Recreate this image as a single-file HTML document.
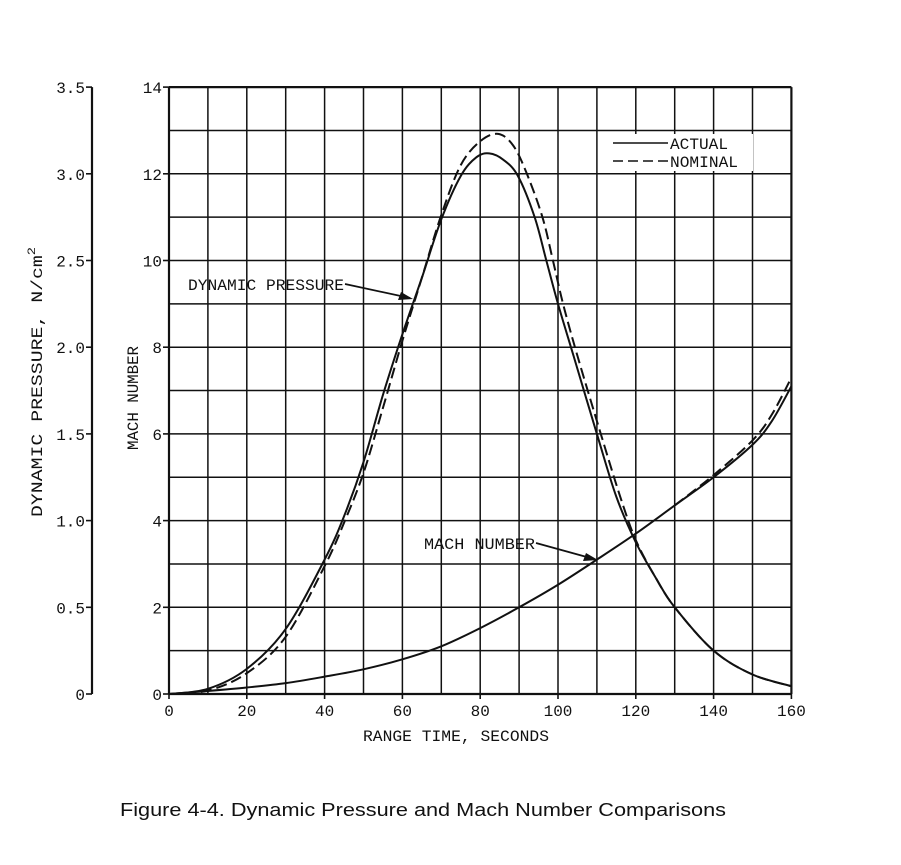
<!DOCTYPE html>
<html><head><meta charset="utf-8"><style>
body{margin:0;background:#fff}
svg text{font-family:"Liberation Mono",monospace;fill:#111}
</style></head><body>
<svg id="s" width="901" height="860" viewBox="0 0 901 860" xmlns="http://www.w3.org/2000/svg">
<g id="grid" stroke="#111" stroke-width="1.6" fill="none"></g>
<rect x="601" y="134" width="152" height="37" fill="#fff"/>
<line x1="613" y1="143" x2="668" y2="143" stroke="#111" stroke-width="1.5"/>
<line x1="613" y1="161" x2="668" y2="161" stroke="#111" stroke-width="1.5" stroke-dasharray="10,5"/>
<text x="670" y="149" font-size="16" textLength="58" lengthAdjust="spacingAndGlyphs">ACTUAL</text>
<text x="670" y="167" font-size="16" textLength="68" lengthAdjust="spacingAndGlyphs">NOMINAL</text>
<g id="curves" fill="none" stroke="#111" stroke-width="2"></g>
<g id="labels" font-size="16"></g>
<text x="188" y="290" font-size="16" textLength="156" lengthAdjust="spacingAndGlyphs">DYNAMIC PRESSURE</text>
<line x1="345" y1="284" x2="410" y2="298" stroke="#111" stroke-width="1.7"/>
<polygon points="413,299 398,300 401,292" fill="#111"/>
<text x="424" y="549" font-size="16" textLength="111" lengthAdjust="spacingAndGlyphs">MACH NUMBER</text>
<line x1="536" y1="543" x2="594" y2="559" stroke="#111" stroke-width="1.7"/>
<polygon points="598,560 583,561 586,553" fill="#111"/>
<text x="456" y="741" font-size="16" text-anchor="middle" textLength="186" lengthAdjust="spacingAndGlyphs">RANGE TIME, SECONDS</text>
<text transform="translate(138,398) rotate(-90)" font-size="16" text-anchor="middle" textLength="104" lengthAdjust="spacingAndGlyphs">MACH NUMBER</text>
<text transform="translate(42,382) rotate(-90)" font-size="16" text-anchor="middle" textLength="270" lengthAdjust="spacingAndGlyphs">DYNAMIC PRESSURE, N/cm<tspan dy="-7" font-size="11">2</tspan></text>
<text x="120" y="816" font-size="18" style='font-family:"Liberation Sans Narrow","Liberation Sans",sans-serif' textLength="606" lengthAdjust="spacingAndGlyphs">Figure 4-4.  Dynamic Pressure and Mach Number Comparisons</text>
</svg>
<script>
const NS="http://www.w3.org/2000/svg";
const X=t=>169+t*3.89, Y=m=>694-m*43.35;
const g=document.getElementById('grid'), lab=document.getElementById('labels');
function el(p,tag,a,txt){const e=document.createElementNS(NS,tag);for(const k in a)e.setAttribute(k,a[k]);if(txt!=null)e.textContent=txt;p.appendChild(e);return e;}
for(let t=0;t<=160;t+=10)el(g,'line',{x1:X(t),y1:Y(0),x2:X(t),y2:Y(14),'stroke-width':(t==0||t==160)?2.2:1.5});
for(let m=0;m<=14;m++)el(g,'line',{x1:X(0),y1:Y(m),x2:X(160),y2:Y(m),'stroke-width':(m==0||m==14)?2.2:1.5});
for(let m=0;m<=14;m+=2){el(g,'line',{x1:X(0)-6,y1:Y(m),x2:X(0),y2:Y(m)});el(lab,'text',{x:X(0)-7,y:Y(m)+6,'text-anchor':'end'},m);}
for(let t=0;t<=160;t+=20){el(g,'line',{x1:X(t),y1:Y(0),x2:X(t),y2:Y(0)+5});el(lab,'text',{x:X(t),y:Y(0)+22,'text-anchor':'middle'},t);}
el(g,'line',{x1:92,y1:Y(14),x2:92,y2:Y(0),'stroke-width':2.2});
for(let i=0;i<=7;i++){const y=Y(i*2);el(g,'line',{x1:86,y1:y,x2:92,y2:y});el(lab,'text',{x:85,y:y+6,'text-anchor':'end'},i==0?'0':(i*0.5).toFixed(1));}
function path(pts,dash){let d='M'+X(pts[0][0])+','+Y(pts[0][1]);
 for(let i=0;i<pts.length-1;i++){const p0=pts[Math.max(0,i-1)],p1=pts[i],p2=pts[i+1],p3=pts[Math.min(pts.length-1,i+2)];
  const c1=[X(p1[0])+(X(p2[0])-X(p0[0]))/6,Y(p1[1])+(Y(p2[1])-Y(p0[1]))/6],c2=[X(p2[0])-(X(p3[0])-X(p1[0]))/6,Y(p2[1])-(Y(p3[1])-Y(p1[1]))/6];
  d+=' C'+c1+' '+c2+' '+X(p2[0])+','+Y(p2[1]);}
 const a={d:d};if(dash)a['stroke-dasharray']='11,5';el(document.getElementById('curves'),'path',a);}
path([[0,0],[10,0.12],[20,0.58],[30,1.5],[40,3.1],[45,4.1],[50,5.35],[55,6.9],[60,8.3],[65,9.6],[70,10.95],[75,11.95],[79,12.38],[82.3,12.47],[86,12.32],[89.7,11.95],[94,11],[97,10],[100,9],[104,7.8],[110,6],[115,4.55],[120,3.5],[125,2.7],[130,2],[140,1],[150,0.45],[160,0.18]]);
path([[0,0],[10,0.08],[20,0.48],[30,1.32],[40,2.95],[45,3.95],[50,5.1],[55,6.6],[60,8.15],[65,9.6],[70,11.05],[75,12.2],[80,12.75],[84.6,12.92],[88.5,12.65],[92,12],[96,11],[98.7,10],[101.3,9],[105,7.8],[111,6],[116,4.55],[120,3.55],[125,2.7],[130,2],[140,1],[150,0.45],[160,0.18]],true);
path([[0,0],[10,0.07],[20,0.15],[30,0.25],[40,0.4],[50,0.57],[60,0.8],[70,1.1],[80,1.52],[90,2.0],[100,2.52],[110,3.1],[120,3.7],[130,4.35],[140,5.0],[150,5.75],[155,6.3],[160,7.1]]);
path([[130,4.35],[140,5.05],[150,5.85],[155,6.45],[160,7.3]],true);
</script>
</body></html>
